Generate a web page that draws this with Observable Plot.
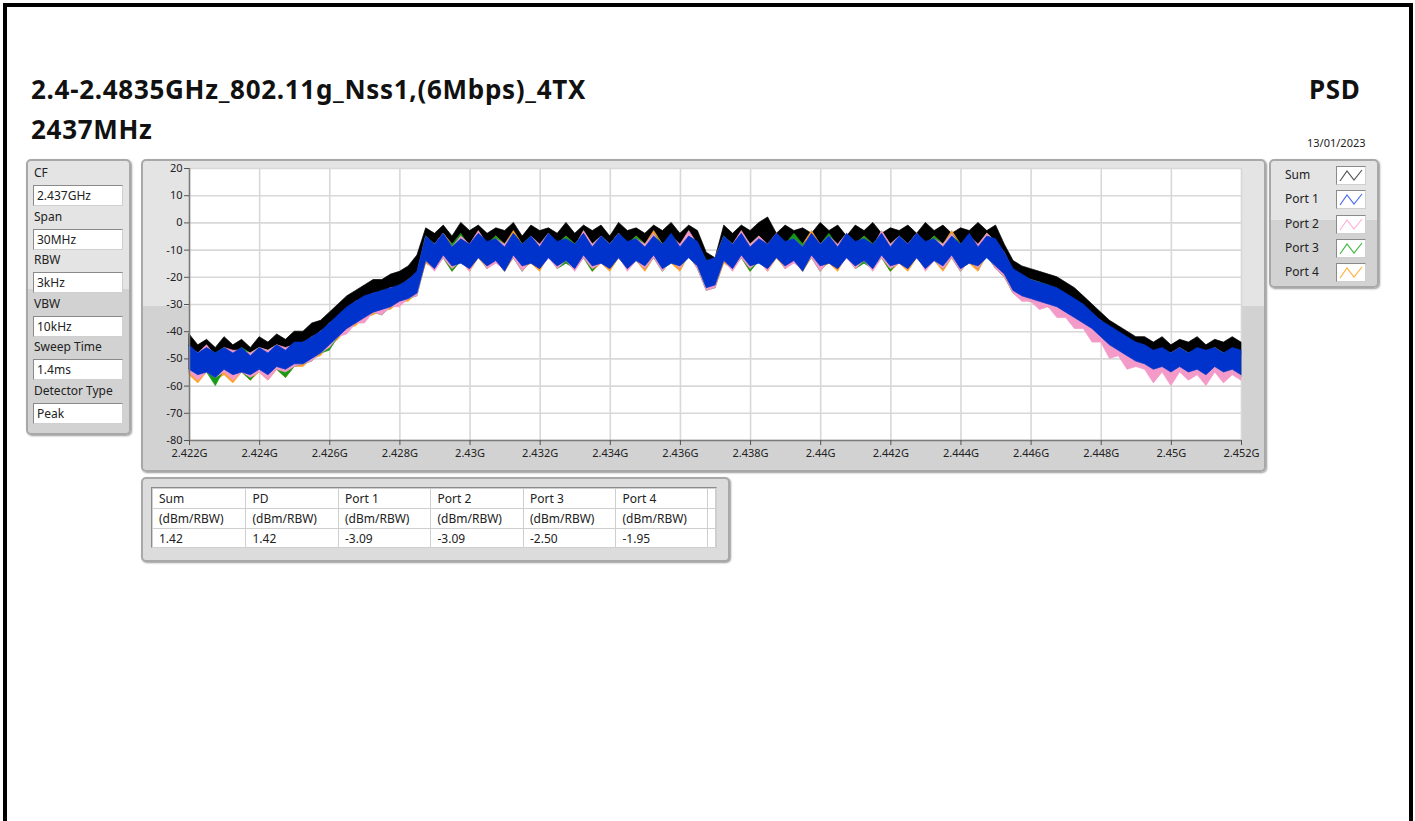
<!DOCTYPE html>
<html><head><meta charset="utf-8">
<script src="https://cdn.jsdelivr.net/npm/d3@7"></script>
<script src="https://cdn.jsdelivr.net/npm/@observablehq/plot@0.6"></script>
<style>
body{margin:0;background:#fff;width:1415px;height:821px;position:relative;overflow:hidden;font-family:"Noto Sans","Open Sans",sans-serif;color:#222;}
.abs{position:absolute}
.bar{position:absolute;background:#000}
.title{position:absolute;font-weight:bold;font-size:26px;letter-spacing:0.7px;line-height:1;color:#111;white-space:nowrap}
.panel{position:absolute;box-sizing:border-box;border:2px solid #a8a8a8;border-radius:5px;background:linear-gradient(#e4e4e4 0%,#e4e4e4 47%,#d2d2d2 47%,#d2d2d2 100%);box-shadow:1px 1px 2px #9a9a9a}
.lbl{position:absolute;font-size:12px;line-height:14px;white-space:nowrap;color:#222}
.box{position:absolute;box-sizing:border-box;background:#fff;border:1px solid #8a8a8a;border-right-color:#d0d0d0;border-bottom-color:#d0d0d0;font-size:12px;line-height:19px;padding-left:3px;white-space:nowrap}
.sw{position:absolute;box-sizing:border-box;background:#fff;border:1px solid #8a8a8a;border-right-color:#cfcfcf;border-bottom-color:#cfcfcf}
table{border-collapse:collapse;font-size:12px;table-layout:fixed}
td{border:1px solid #cfcfcf;height:19px;padding:0 0 0 6px;white-space:nowrap;line-height:18px}
</style></head>
<body>
<div id="root"></div>
<script>
// ---- text data ----
const titleLine1 = "2.4-2.4835GHz_802.11g_Nss1,(6Mbps)_4TX";
const titleLine2 = "2437MHz";
const sideTitle = "PSD";
const dateText = "13/01/2023";
const paramLabels = ["CF","Span","RBW","VBW","Sweep Time","Detector Type"];
const paramValues = ["2.437GHz","30MHz","3kHz","10kHz","1.4ms","Peak"];
const seriesNames = ["Sum","Port 1","Port 2","Port 3","Port 4"];
const seriesColors = ["#000000","#0033cc","#f49ac8","#159a15","#ffa126"];
const legendColors = ["#555555","#4a6cf0","#ffb3d9","#3cb83c","#ffb13d"];
const tableHeaders = ["Sum","PD","Port 1","Port 2","Port 3","Port 4"];
const tableUnits = ["(dBm/RBW)","(dBm/RBW)","(dBm/RBW)","(dBm/RBW)","(dBm/RBW)","(dBm/RBW)"];
const tableValues = ["1.42","1.42","-3.09","-3.09","-2.50","-1.95"];
const xTickGHz = [2.422,2.424,2.426,2.428,2.43,2.432,2.434,2.436,2.438,2.44,2.442,2.444,2.446,2.448,2.45,2.452];
const yTicks = [20,10,0,-10,-20,-30,-40,-50,-60,-70,-80];

// ---- trace data: 121 sweep points, 2.422 GHz to 2.452 GHz (CF 2.437 GHz, span 30 MHz) ----
const startHz = 2.422e9, stepHz = 0.25e6, nPts = 121;
const sumHi = [-41,-45,-43,-46,-42,-45,-43,-46,-42,-44,-41,-43,-40,
 -40,-37,-36,-33,-30,-27,-25,-23,-21,-21,-19,-18,-16,-12,
 -2,-4,-1,-5,0,-3,-1,-4,-2,-3,0,-5,-1,-3,-2,-4,0,-4,-1,-3,-1,-5,0,-3,-2,-4,-1,-3,0,-4,-1,-3,
 -11,-13,
 -1,-4,-1,-3,0,2,-4,-1,-3,-2,-4,0,-3,-1,-5,-1,-3,0,-4,-2,-3,-1,-4,0,-3,-1,-4,-2,-3,0,-3,-1,
 -8,
 -14,-16,-17,-18,-19,-20,-22,-24,-27,-30,-33,-36,-38,-40,-42,
 -42,-44,-42,-45,-43,-44,-42,-45,-43,-44,-42,-44];
const sumLo = [-48,-50,-48,-50,-48,-49,-48,-50,-48,-49,-47,-48,-46,
 -45,-43,-41,-39,-36,-34,-32,-30,-28,-27,-26,-25,-23,-20,
 -9,-8,-9,-8,-9,-8,-9,-8,-9,-8,-9,-8,-9,-8,-9,-8,-9,-8,-9,-8,-9,-8,-9,-8,-9,-8,-9,-8,-9,-8,-9,-8,
 -18,-19,
 -8,-9,-8,-9,-8,-9,-8,-9,-8,-9,-8,-9,-8,-9,-8,-9,-8,-9,-8,-9,-8,-9,-8,-9,-8,-9,-8,-9,-8,-9,-8,-9,
 -15,
 -21,-23,-24,-25,-26,-27,-28,-30,-33,-36,-39,-42,-44,-46,-47,
 -48,-49,-48,-49,-48,-49,-48,-49,-48,-49,-48,-49];
const p1Hi = [-45,-48,-46,-48,-46,-48,-46,-49,-46,-48,-45,-47,-44,
 -44,-42,-40,-37,-34,-31,-29,-27,-26,-25,-24,-23,-21,-18,
 -5,-8,-4,-9,-6,-8,-4,-7,-6,-9,-4,-8,-5,-9,-4,-7,-6,-8,-4,-9,-5,-8,-4,-7,-6,-9,-5,-8,-4,-9,-5,-7,
 -14,-13,
 -5,-8,-4,-9,-6,-8,-4,-7,-6,-9,-4,-8,-5,-9,-4,-7,-6,-8,-4,-9,-5,-8,-4,-7,-6,-9,-5,-8,-4,-9,-5,-6,
 -11,
 -17,-19,-21,-22,-23,-24,-26,-28,-30,-33,-36,-38,-40,-42,-44,
 -45,-47,-46,-48,-46,-48,-46,-47,-46,-48,-46,-47];
const p1Lo = [-54,-56,-55,-57,-54,-56,-55,-56,-54,-56,-53,-54,-52,
 -52,-50,-48,-45,-42,-39,-37,-35,-33,-32,-31,-29,-28,-26,
 -14,-17,-12,-16,-15,-17,-13,-16,-14,-18,-12,-16,-15,-17,-13,-16,-14,-17,-12,-16,-15,-17,-13,-17,-14,-16,-12,-17,-15,-16,-13,-16,
 -24,-23,
 -14,-17,-12,-16,-15,-17,-13,-16,-14,-18,-12,-16,-15,-17,-13,-16,-14,-17,-12,-16,-15,-17,-13,-17,-14,-16,-12,-17,-15,-16,-13,-16,
 -19,
 -25,-27,-28,-29,-30,-31,-33,-35,-37,-39,-42,-45,-47,-49,-51,
 -52,-54,-53,-55,-53,-55,-54,-56,-53,-55,-54,-56];
const p2Hi = [-46,-48,-45,-49,-46,-47,-47,-48,-46,-47,-45,-46,-45,
 -45,-43,-40,-38,-35,-32,-30,-28,-27,-26,-24,-24,-22,-19,
 -6,-8,-4,-9,-5,-8,-3,-8,-6,-8,-4,-9,-5,-8,-4,-8,-6,-9,-3,-8,-5,-8,-4,-8,-6,-8,-4,-9,-5,-8,-3,-8,
 -15,-14,
 -6,-8,-3,-8,-5,-8,-4,-8,-6,-9,-4,-8,-5,-8,-4,-8,-6,-9,-3,-8,-5,-8,-4,-8,-6,-8,-4,-9,-5,-8,-4,-7,
 -12,
 -18,-20,-22,-23,-24,-25,-27,-29,-31,-34,-37,-39,-41,-43,-45,
 -47,-48,-47,-49,-48,-49,-47,-49,-48,-49,-47,-48];
const p2Lo = [-55,-58,-55,-57,-55,-58,-55,-57,-55,-58,-54,-55,-53,
 -52,-51,-48,-46,-42,-41,-37,-37,-33,-34,-31,-31,-28,-27,
 -14,-18,-13,-17,-14,-18,-12,-17,-15,-17,-13,-18,-14,-17,-13,-17,-14,-18,-13,-17,-15,-17,-12,-18,-14,-17,-13,-18,-14,-17,-12,-17,
 -25,-24,
 -14,-18,-13,-17,-14,-18,-12,-17,-15,-17,-13,-18,-14,-17,-13,-17,-14,-18,-13,-17,-15,-17,-12,-18,-14,-17,-13,-18,-14,-17,-12,-17,
 -20,
 -26,-29,-29,-32,-31,-35,-35,-39,-39,-44,-44,-50,-49,-54,-53,
 -54,-59,-55,-60,-55,-58,-56,-60,-55,-59,-56,-58];
const p3Hi = [-46,-48,-46,-48,-46,-48,-46,-48,-46,-47,-45,-47,-45,
 -44,-43,-40,-38,-35,-32,-30,-28,-27,-25,-25,-23,-22,-19,
 -5,-8,-5,-8,-4,-9,-5,-8,-5,-8,-4,-8,-5,-9,-4,-8,-5,-8,-4,-8,-5,-8,-4,-8,-5,-8,-4,-8,-5,-9,-4,-8,
 -14,-14,
 -5,-8,-4,-8,-5,-9,-5,-8,-4,-8,-5,-8,-4,-9,-5,-8,-5,-8,-4,-8,-5,-8,-4,-8,-5,-8,-4,-8,-5,-9,-4,-7,
 -12,
 -18,-20,-21,-22,-23,-25,-27,-29,-31,-34,-37,-39,-41,-43,-45,
 -46,-48,-47,-48,-47,-48,-47,-48,-47,-48,-47,-48];
const p3Lo = [-55,-57,-55,-60,-54,-57,-55,-58,-54,-56,-54,-57,-53,
 -52,-51,-48,-47,-42,-40,-37,-36,-33,-34,-31,-30,-28,-27,
 -14,-17,-13,-18,-14,-17,-12,-17,-14,-17,-13,-18,-14,-17,-12,-17,-15,-17,-13,-18,-14,-17,-12,-17,-14,-17,-13,-18,-14,-17,-12,-17,
 -25,-24,
 -14,-17,-13,-18,-14,-17,-12,-17,-14,-17,-13,-18,-14,-17,-12,-17,-15,-17,-13,-18,-14,-17,-12,-17,-14,-17,-13,-18,-14,-17,-12,-17,
 -20,
 -26,-28,-29,-30,-31,-33,-34,-36,-38,-41,-43,-46,-48,-51,-52,
 -53,-55,-54,-57,-54,-56,-55,-58,-54,-56,-55,-57];
const p4Hi = [-46,-48,-46,-49,-46,-48,-47,-48,-46,-48,-45,-47,-45,
 -45,-42,-41,-37,-35,-32,-29,-28,-26,-26,-24,-24,-21,-19,
 -5,-8,-4,-8,-6,-9,-4,-8,-5,-8,-3,-8,-6,-9,-4,-8,-5,-8,-4,-8,-6,-9,-4,-8,-5,-8,-3,-8,-6,-9,-4,-8,
 -15,-13,
 -5,-8,-4,-8,-6,-9,-4,-8,-5,-8,-3,-8,-6,-9,-4,-8,-5,-8,-4,-8,-6,-9,-4,-8,-5,-8,-3,-8,-6,-9,-4,-7,
 -11,
 -18,-20,-21,-22,-24,-25,-27,-29,-31,-34,-36,-39,-41,-43,-45,
 -46,-48,-47,-48,-46,-48,-47,-48,-46,-48,-47,-48];
const p4Lo = [-56,-59,-55,-58,-56,-59,-55,-58,-55,-58,-54,-57,-53,
 -53,-50,-49,-45,-43,-39,-38,-35,-34,-32,-32,-29,-29,-26,
 -15,-17,-13,-18,-14,-18,-13,-17,-14,-18,-13,-17,-15,-18,-12,-17,-14,-17,-13,-18,-15,-18,-13,-17,-14,-18,-13,-17,-15,-18,-12,-17,
 -24,-24,
 -15,-17,-13,-18,-14,-18,-13,-17,-14,-18,-13,-17,-15,-18,-12,-17,-14,-17,-13,-18,-15,-18,-13,-17,-14,-18,-13,-17,-15,-18,-12,-17,
 -20,
 -26,-28,-29,-30,-31,-32,-34,-36,-38,-40,-43,-46,-48,-50,-52,
 -53,-55,-54,-56,-54,-56,-55,-56,-54,-56,-55,-56];

const hiArrays = [sumHi,p1Hi,p2Hi,p3Hi,p4Hi];
const loArrays = [sumLo,p1Lo,p2Lo,p3Lo,p4Lo];

// ---- layout ----
const root = document.getElementById("root");
function el(tag, cls, style, text){const e=document.createElement(tag); if(cls) e.className=cls; Object.assign(e.style, style||{}); if(text!=null) e.textContent=text; root.appendChild(e); return e;}

// frame lines
el("div","bar",{left:"3px",top:"3px",width:"4px",height:"818px"});
el("div","bar",{left:"3px",top:"3px",width:"1410px",height:"4px"});
el("div","bar",{left:"1409px",top:"3px",width:"4px",height:"818px"});

// titles
el("div","title",{left:"31px",top:"76px"},titleLine1);
el("div","title",{left:"31px",top:"116px"},titleLine2);
el("div","title",{left:"1309px",top:"76px"},sideTitle);
el("div","lbl",{left:"1307px",top:"136px",fontSize:"11px"},dateText);

// left parameter panel
el("div","panel",{left:"26px",top:"159px",width:"105px",height:"276px"});
paramLabels.forEach((t,i)=>{
  const y0 = 159 + i*43.6;
  el("div","lbl",{left:"34px",top:(y0+7)+"px"},t);
  el("div","box",{left:"33px",top:(y0+26)+"px",width:"90px",height:"21px"},paramValues[i]);
});

// chart panel
el("div","panel",{left:"141px",top:"159px",width:"1125px",height:"313px"});

// legend panel
el("div","panel",{left:"1269px",top:"159px",width:"110px",height:"129px"});
seriesNames.forEach((n,i)=>{
  const y0 = 166 + i*24.3;
  el("div","lbl",{left:"1285px",top:(y0+2)+"px"},n);
  const s = el("div","sw",{left:"1336px",top:y0+"px",width:"30px",height:"19px"});
  s.innerHTML = `<svg width="28" height="17" style="position:absolute;left:0;top:0"><polyline points="3,14 10,4 17,13 25,3" fill="none" stroke="${legendColors[i]}" stroke-width="1.2"/></svg>`;
});

// table panel
el("div","panel",{left:"141px",top:"477px",width:"589px",height:"85px",background:"#dcdcdc"});
const tw = el("div","abs",{left:"151px",top:"487px",width:"566px",height:"61px",background:"#fff",boxSizing:"border-box",border:"1px solid #8a8a8a",borderRightColor:"#cfcfcf",borderBottomColor:"#cfcfcf",overflow:"hidden"});
const colW = [94,93,93,93,93,92,8];
let html = "<table><colgroup>"+colW.map(w=>`<col style="width:${w}px">`).join("")+"</colgroup>";
[tableHeaders,tableUnits,tableValues].forEach(row=>{ html += "<tr>"+row.map(c=>`<td>${c}</td>`).join("")+"<td></td></tr>"; });
html += "</table>";
tw.innerHTML = html;

// ---- Plot ----
const freqs = d3.range(nPts).map(i => startHz + i*stepHz);
const xTicks = xTickGHz.map(g => Math.round(g*1e6)*1e3);
const fmtG = d => (+(d/1e9).toFixed(3)) + "G";
const order = [0,4,3,2,1];
const areaMarks = order.map(k => Plot.areaY(
  freqs.map((f,i)=>({f, lo: loArrays[k][i], hi: hiArrays[k][i]})),
  {x:"f", y1:"lo", y2:"hi", fill: seriesColors[k], stroke: seriesColors[k], strokeWidth: 0.7}
));

const chart = Plot.plot({
  width: 1125, height: 313,
  marginLeft: 48, marginRight: 25, marginTop: 9, marginBottom: 32,
  x: {type: "linear", domain: [startHz, startHz + (nPts-1)*stepHz]},
  y: {domain: [-80, 20]},
  style: {background: "transparent", fontFamily: "'Noto Sans','Open Sans',sans-serif", fontSize: "11px", color: "#222"},
  marks: [
    Plot.frame({fill: "#fff", stroke: null}),
    Plot.gridX(xTicks, {stroke: "#d8d8d8", strokeOpacity: 1, strokeWidth: 1.6}),
    Plot.gridY(yTicks, {stroke: "#d8d8d8", strokeOpacity: 1, strokeWidth: 1.6}),
    ...areaMarks,
    Plot.ruleX([startHz], {stroke: "#7a7a7a", strokeWidth: 1.5}),
    Plot.ruleY([-80], {stroke: "#7a7a7a", strokeWidth: 1.5}),
    Plot.axisX(xTicks, {tickSize: 5, tickPadding: 4, tickFormat: fmtG, label: null, stroke: "#555"}),
    Plot.axisY(yTicks, {tickSize: 5, tickPadding: 2, tickFormat: d => String(d), label: null, stroke: "#555"})
  ]
});
chart.style.position = "absolute";
chart.style.left = "141px";
chart.style.top = "159px";
root.appendChild(chart);
</script>
</body></html>
